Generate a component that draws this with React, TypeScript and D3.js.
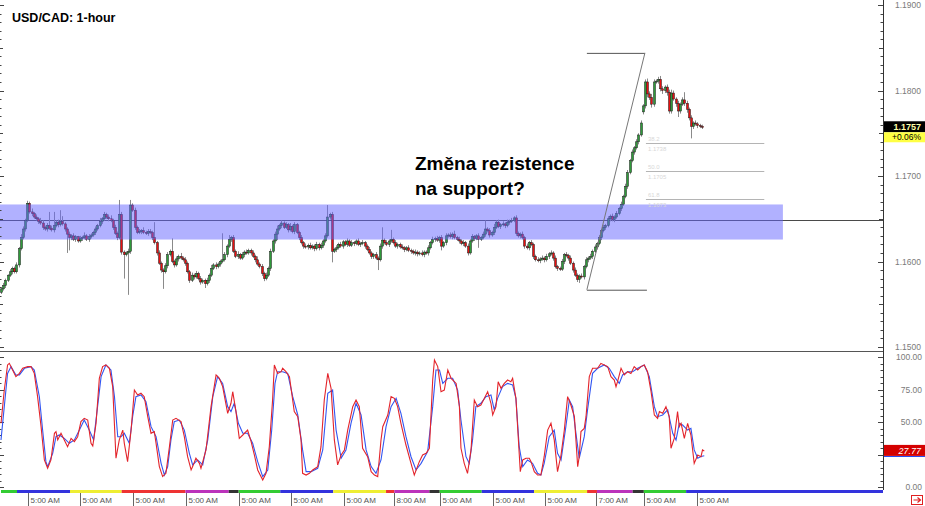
import React, { useEffect, useRef } from 'react';
import * as d3 from 'd3';

const W = 925;
const H = 506;
const FONT = '"Liberation Sans", Arial, sans-serif';

// hourly closes, in pips above 1.1500
const closes = [
  68, 72, 78, 84, 88, 92, 88, 96, 115, 128,
  138, 148, 168, 158, 156, 152, 150, 147, 145, 140,
  138, 142, 139, 137, 142, 146, 143, 147, 144, 138,
  132, 128, 130, 126, 129, 124, 127, 128, 130, 126,
  129, 131, 134, 138, 142, 147, 150, 155, 152, 150,
  148, 140, 133, 128, 155, 111, 108, 110, 112, 166,
  160, 140, 134, 135, 136, 134, 133, 135, 134, 128,
  122, 110, 98, 90, 88, 95, 108, 112, 100, 96,
  103, 106, 104, 102, 98, 88, 78, 84, 82, 86,
  80, 76, 78, 74, 78, 84, 92, 96, 94, 97,
  100, 102, 108, 118, 126, 128, 112, 106, 108, 104,
  108, 111, 110, 113, 110, 106, 102, 97, 94, 86,
  80, 84, 92, 112, 124, 132, 138, 142, 145, 140,
  143, 137, 141, 135, 143, 134, 128, 122, 118, 117,
  119, 116, 118, 115, 120, 116, 119, 124, 130, 152,
  155, 112, 114, 116, 120, 118, 123, 120, 124, 119,
  122, 121, 124, 120, 121, 122, 118, 114, 110, 106,
  108, 104, 102, 118, 125, 122, 120, 124, 126, 122,
  118, 120, 117, 116, 114, 116, 113, 112, 110, 111,
  109, 110, 108, 111, 110, 116, 122, 126, 127, 125,
  128, 118, 122, 130, 131, 129, 132, 128, 126, 124,
  121, 122, 118, 110, 124, 129, 127, 130, 126, 128,
  132, 138, 136, 131, 134, 140, 146, 141, 143, 144,
  142, 146, 147, 148, 151, 133, 130, 132, 128, 118,
  116, 122, 120, 106, 102, 101, 103, 104, 102, 106,
  109, 110, 104, 94, 92, 91, 100, 108, 107, 104,
  98, 90, 84, 79, 83, 82, 94, 102, 104, 106,
  112, 117, 121, 128, 136, 140, 142, 150, 153, 149,
  152, 156, 162, 167, 176, 188, 204, 218, 228, 233,
  240, 248, 262, 282, 310, 296, 292, 284, 310, 311,
  313, 302, 300, 304, 298, 276, 297, 290, 285, 276,
  284, 289, 285, 278, 268, 258, 262, 261, 259, 258,
  257,
];

// wick length above / below the body, in pips
const upperWicks = [
  2, 3, 2, 1, 3, 2, 2, 3, 2, 4, 3, 2, 3, 2, 4, 2, 3, 2, 4, 3,
  2, 3, 16, 3, 16, 2, 3, 13, 6, 2, 2, 3, 2, 3, 2, 1, 3, 2, 4, 2,
  3, 2, 2, 3, 2, 4, 2, 3, 2, 3, 4, 2, 3, 2, 17, 3, 2, 2, 3, 6,
  2, 3, 2, 3, 2, 4, 2, 3, 3, 2, 18, 2, 3, 2, 2, 3, 3, 2, 15, 2,
  3, 2, 4, 2, 3, 2, 2, 3, 2, 3, 2, 3, 2, 2, 3, 2, 4, 2, 3, 2,
  2, 31, 3, 2, 5, 2, 3, 2, 4, 2, 3, 2, 3, 2, 2, 3, 2, 4, 2, 3,
  2, 3, 2, 3, 2, 3, 4, 2, 3, 2, 3, 2, 4, 2, 3, 2, 2, 3, 2, 3,
  2, 3, 2, 2, 3, 2, 3, 2, 3, 14, 2, 3, 2, 3, 2, 3, 2, 2, 3, 2,
  3, 2, 2, 3, 2, 3, 2, 2, 3, 2, 2, 3, 2, 3, 15, 2, 3, 2, 11, 2,
  3, 2, 2, 3, 2, 2, 3, 2, 2, 3, 2, 2, 3, 2, 2, 3, 2, 3, 2, 3,
  2, 3, 2, 3, 2, 3, 2, 4, 2, 3, 2, 3, 2, 3, 2, 3, 2, 2, 3, 2,
  3, 10, 2, 3, 2, 4, 2, 3, 2, 3, 2, 3, 2, 3, 2, 3, 2, 2, 3, 2,
  3, 2, 3, 2, 2, 3, 2, 3, 2, 3, 2, 3, 2, 3, 2, 2, 3, 2, 3, 2,
  3, 2, 3, 2, 2, 3, 2, 3, 2, 3, 2, 3, 2, 3, 2, 3, 2, 3, 2, 3,
  2, 3, 2, 3, 2, 3, 3, 2, 3, 2, 3, 2, 3, 2, 3, 4, 3, 4, 3, 2,
  3, 4, 3, 2, 3, 3, 4, 3, 2, 3, 2, 3, 9, 3, 2, 3, 2, 3, 2, 2,
  2,
];
const lowerWicks = [
  2, 2, 3, 2, 2, 3, 2, 2, 3, 2, 2, 3, 2, 2, 3, 2, 2, 3, 2, 3,
  2, 3, 2, 2, 3, 2, 3, 2, 2, 3, 22, 15, 3, 2, 3, 2, 2, 3, 2, 2,
  3, 2, 2, 3, 2, 2, 3, 2, 2, 3, 2, 3, 2, 3, 2, 3, 28, 2, 49, 3,
  2, 3, 2, 2, 3, 2, 2, 3, 2, 3, 2, 3, 2, 3, 20, 2, 3, 2, 2, 3,
  2, 3, 2, 2, 3, 2, 3, 2, 3, 2, 2, 3, 2, 5, 2, 3, 2, 2, 3, 2,
  3, 2, 2, 3, 2, 3, 2, 2, 3, 2, 2, 3, 2, 2, 3, 2, 3, 2, 2, 3,
  3, 2, 2, 3, 2, 3, 7, 2, 3, 2, 2, 3, 2, 2, 3, 2, 3, 2, 3, 2,
  3, 2, 2, 3, 2, 3, 2, 3, 2, 2, 3, 13, 2, 3, 2, 2, 3, 2, 3, 2,
  2, 3, 2, 2, 3, 2, 3, 2, 2, 3, 3, 2, 12, 2, 3, 2, 2, 3, 2, 2,
  2, 3, 2, 2, 3, 2, 2, 3, 2, 3, 3, 2, 2, 3, 2, 3, 2, 2, 3, 2,
  3, 5, 2, 3, 2, 2, 3, 2, 2, 3, 2, 3, 2, 3, 2, 2, 3, 2, 10, 2,
  2, 3, 2, 3, 2, 3, 2, 2, 3, 2, 3, 2, 3, 2, 2, 3, 2, 3, 2, 3,
  2, 3, 2, 3, 2, 2, 3, 2, 3, 2, 3, 2, 3, 2, 3, 2, 2, 3, 2, 3,
  2, 3, 2, 3, 4, 2, 3, 2, 3, 2, 3, 2, 3, 2, 3, 2, 3, 2, 3, 2,
  3, 2, 2, 3, 2, 2, 3, 2, 2, 3, 2, 3, 2, 3, 3, 4, 3, 4, 3, 2,
  3, 3, 4, 3, 4, 3, 3, 2, 4, 7, 3, 2, 3, 4, 3, 14, 3, 2, 3, 2,
  2,
];
const firstOpen = 64;
const gapOpens: [number, number][] = [[293, 275]];

// stochastic %K (red) and %D (blue): [candle index, value]
const stochK: [number, number][] = [
  [0, 49], [1.5, 74.6], [3, 93.9], [3.8, 95.1], [5.3, 90], [6.8, 84.9], [8.4, 87.4], [9.9, 91.3], [12.2, 92.6], [13.7, 92.6],
  [15.2, 87.4], [16.7, 69.5], [18.3, 46.4], [19.8, 20.8], [21.3, 14.4], [22.8, 20.8], [24.4, 41.3], [25.1, 42.6], [25.9, 36.2], [27.4, 41.3],
  [28.9, 36.2], [30.4, 31], [32, 37.4], [33.5, 34.9], [35, 38.7], [36.5, 50.3], [38, 52.8], [39.6, 51.5], [41.1, 33.6], [41.9, 31.5],
  [43.4, 49], [44.9, 83.6], [46.4, 92.6], [47.9, 93.9], [49.5, 91.3], [51, 77.2], [52.5, 22.1], [54, 36.2], [55.6, 43.8], [56.3, 33.6],
  [57.8, 19.5], [59.4, 43.8], [60.9, 74.6], [62.4, 70.8], [63.9, 72.1], [65.4, 69.5], [67, 54.1], [68.5, 41.3], [70, 42.6], [70.8, 33.6],
  [72.3, 15.7], [73.8, 8], [75.3, 10.5], [76.9, 31], [78.4, 51.5], [79.9, 52.8], [82.2, 50.3], [83.7, 38.7], [85.2, 23.3], [86.8, 13.1],
  [87.5, 15.7], [89, 22.1], [90.6, 18.2], [91.3, 14.4], [93.6, 28.5], [95.9, 61.8], [98.2, 86.2], [99.7, 83.6], [101.2, 77.2], [103.5, 56.7],
  [105, 64.4], [105.8, 73.3], [107.3, 58], [108.1, 46.4], [108.8, 37.4], [110.4, 40], [112.6, 43.8], [114.2, 34.9], [115.7, 24.6], [117.2, 13.1],
  [119.5, 5.4], [121, 10.5], [122.5, 31], [124, 66.9], [124.8, 93.9], [126.3, 87.4], [127.9, 88.7], [128.6, 91.3], [130.1, 88.7], [131.7, 84.9],
  [133.9, 58], [135.5, 54.1], [137, 36.2], [137.7, 10.5], [139.3, 9.2], [140.8, 10.5], [142.3, 13.1], [144.6, 15.7], [146.1, 31], [147.6, 66.9],
  [149.2, 87.4], [150.7, 75.9], [152.2, 36.2], [153.7, 17], [155.3, 24.6], [156.8, 28.5], [158.3, 43.8], [160.6, 61.8], [162.1, 66.9], [163.6, 61.8],
  [165.1, 29.8], [167.4, 23.3], [169, 11.8], [170.5, 9.2], [172, 8], [173.5, 36.2], [174.3, 46.4], [176.6, 55.4], [178.1, 69.5], [179.6, 68.2],
  [181.1, 61.8], [182.6, 49], [184.9, 32.3], [187.2, 18.2], [188.7, 9.2], [191, 19.5], [192.5, 24.6], [194.1, 25.9], [195.6, 29.8], [197.1, 82.3],
  [197.9, 97.7], [199.4, 92.6], [200.9, 73.3], [202.4, 74.6], [204, 90], [205.5, 83.6], [207.8, 79.7], [209.3, 61.8], [210, 30],
  [211.5, 18.2], [213, 10.5], [214.6, 28.5], [216.1, 66.9], [217.6, 61.8], [219.1, 63.1], [220.7, 68.2], [222.2, 73.3], [223.7, 64.4], [224.5, 55.4],
  [226, 61.8], [227, 81], [228.3, 75.9], [229.8, 79.7], [231.3, 82.3], [232.8, 81], [233.6, 83.6], [235.1, 68.2], [237.1, 11.8], [238.2, 20.8],
  [239.7, 22.1], [241.2, 22.1], [242, 19.5], [243.5, 11.8], [245, 9.2], [246.5, 9.2], [248, 23.3], [249.6, 43.8], [251.1, 49], [252.6, 36.2],
  [254.1, 11.8], [255.7, 24.6], [257.2, 43.8], [258.7, 69.5], [260.2, 63.1], [261.8, 54.1], [263.3, 15.7], [264, 23.3], [264.8, 42.6], [266.3, 45.1],
  [267.1, 54.1], [268.6, 84.9], [270.1, 91.3], [272.4, 91.3], [273.9, 95.1], [275.4, 93.9], [277, 92.6], [278.5, 84.9], [280, 82.3], [280.8, 77.2],
  [281.5, 81], [283.1, 91.3], [284.6, 86.2], [286.1, 88.7], [287.6, 87.4], [289.1, 92.6], [290.7, 90], [292.2, 92.6], [293.7, 93.9], [295.2, 88.7],
  [296.8, 73.3], [298.3, 55.4], [299.8, 52.8], [300.6, 58], [302.1, 56.7], [303.6, 61.8], [305.1, 54.1], [305.9, 29.8], [307.4, 37.4], [308.9, 58],
  [309.7, 46.4], [310.5, 49], [312, 37.4], [313.5, 49], [315, 40], [316.5, 18.2], [318.1, 24.6], [319.6, 23.3], [320.3, 28.5], [321.1, 27.77],
];
const stochD: [number, number][] = [
  [0, 36.2], [1.5, 61.8], [3, 87.4], [4.6, 92.6], [6.8, 86.2], [8.4, 86.2], [10.7, 91.3], [13.7, 92.6], [15.2, 90], [17.5, 69.5],
  [19, 43.8], [20.5, 19.5], [21.3, 15.7], [23.6, 25.9], [25.1, 38.7], [26.6, 40], [28.9, 37.4], [31.2, 33.6], [33.5, 36.2], [35.8, 43.8],
  [38, 51.5], [40.3, 43.8], [42.3, 36.2], [44.1, 61.8], [45.7, 84.9], [47.9, 93.9], [50.2, 90], [51.8, 69.5], [53.3, 38.7], [54.8, 38.7],
  [56.3, 41.3], [58.6, 33.6], [60.1, 54.1], [61.6, 69.5], [63.9, 70.8], [66.2, 65.6], [68.5, 46.4], [70.8, 38.7], [73.1, 18.2], [74.6, 9.2],
  [76.1, 15.7], [77.6, 36.2], [79.1, 50.3], [81.4, 51.5], [83.7, 43.8], [86, 25.9], [87.5, 17], [89.8, 20.8], [92.1, 17], [94.4, 36.2],
  [96.7, 69.5], [98.9, 84.9], [101.2, 79.7], [103.5, 61.8], [105, 58], [106.5, 64.4], [108.4, 49], [110.4, 41.3], [112.6, 41.3], [114.9, 33.6],
  [117.2, 19.5], [119.5, 8], [121.8, 13.1], [123.6, 43.8], [125.1, 79.7], [126.3, 88.7], [128.6, 88.7], [130.9, 87.4], [133.2, 69.5], [135.5, 55.4],
  [137.7, 28.5], [139.3, 11.8], [141.6, 11.8], [144.6, 14.4], [146.9, 28.5], [149.2, 72.1], [151.4, 74.6], [153, 43.8], [155.3, 22.1], [157.5, 28.5],
  [159.8, 49], [162.1, 64.4], [164.4, 55.4], [166.7, 28.5], [169, 15.7], [171.2, 10.5], [173.5, 20.8], [175.8, 46.4], [178.1, 61.8], [180.4, 68.2],
  [182.6, 56.7], [184.9, 38.7], [187.2, 23.3], [189.5, 13.1], [191.8, 18.2], [194.8, 27.2], [197.1, 61.8], [198.6, 90], [200.2, 90], [201.7, 79.7],
  [204, 83.6], [206.2, 83.6], [208.5, 74.6], [210, 51.5], [212.3, 23.3], [213.8, 18.2], [215.3, 36.2], [216.8, 61.8], [219.1, 64.4], [221.4, 69.5],
  [223.7, 70.8], [225.2, 59.3], [226.7, 68.2], [229, 77.2], [231.3, 79.7], [233.6, 78.5], [235.1, 68.2], [236.6, 31], [238.2, 15.7], [240.4, 20.8],
  [242.7, 18.2], [245, 10.5], [246.5, 9.2], [248, 18.2], [250.3, 38.7], [252.6, 43.8], [254.1, 25.9], [255.7, 20.8], [257.9, 46.4], [259.5, 66.9],
  [261, 61.8], [262.5, 41.3], [264, 22.1], [266.3, 38.7], [267.8, 59.3], [270.1, 87.4], [272.4, 91.3], [275.4, 93.9], [277.7, 91.3], [280, 84.9],
  [282.3, 79.7], [283.8, 86.2], [286.1, 88.7], [288.4, 88.7], [290.7, 91.3], [293.7, 93.9], [296, 84.9], [298.3, 61.8], [299.8, 54.1], [302.1, 55.4],
  [304.4, 59.3], [306.7, 41.3], [308.2, 36.2], [309.7, 49], [311.2, 47.7], [313.5, 43.8], [315, 45.1], [316.5, 28.5], [318.1, 22.1], [319.6, 23.5],
  [321.1, 24],
];

const priceMajor = [1.15, 1.16, 1.17, 1.18, 1.19];
// 25.00 sits behind the %K tag, so it is not labelled
const stochLabels = [0, 50, 75, 100];

const zoneTop = 1.16667;
const zoneBottom = 1.16257;
const zoneEnd = 357;
const levelPrice = 1.1648;

const fibStart = 267.5;
const fibEnd = 294;
const fibLinesEnd = 348.5;
const fibHigh = 1.1844;
const fibLow = 1.1567;
const fibLevels = [0.382, 0.5, 0.618];

const dayChange = 0.06;

// colour strip under the chart: [from index, to index, colour]
const daySegments: [number, number, string][] = [
  [0, 7.3, '#33cc33'], [7.3, 31.5, '#3333dd'], [31.5, 55.1, '#eeee33'], [55.1, 84.2, '#ee3333'],
  [84.2, 104, '#bb33bb'], [104, 108.5, '#333333'], [108.5, 127.5, '#33cc33'], [127.5, 151.7, '#3333dd'],
  [151.7, 175.8, '#eeee33'], [175.8, 179.6, '#ee3333'], [179.6, 195.6, '#bb33bb'], [195.6, 200.3, '#333333'],
  [200.3, 219.5, '#33cc33'], [219.5, 243.4, '#3333dd'], [243.4, 267.6, '#eeee33'], [267.6, 272.1, '#ee3333'],
  [272.1, 288.4, '#bb33bb'], [288.4, 293.5, '#333333'], [293.5, 312.8, '#33cc33'], [312.8, 402.7, '#3333dd'],
];

const timeTicks = [12.2, 36.2, 60.4, 84.5, 108.5, 132.4, 156.5, 179.6, 200.3, 224.8, 248.3, 271.7, 293.5, 317.8];
const timeLabels = [
  '5:00 AM', '5:00 AM', '5:00 AM', '5:00 AM', '5:00 AM', '5:00 AM', '5:00 AM',
  '8:00 AM', '5:00 AM', '5:00 AM', '5:00 AM', '7:00 AM', '5:00 AM', '5:00 AM',
];

const pip = (p: number) => 1.15 + p / 10000;

const App: React.FC = () => {
  const svgRef = useRef<SVGSVGElement>(null);

  useEffect(() => {
    if (!svgRef.current) return;
    const svg = d3.select(svgRef.current);
    svg.selectAll('*').remove();

    const axisX = 883;
    const x = d3.scaleLinear().domain([0, 402.7]).range([1, axisX]);
    const yP = d3.scaleLinear().domain([1.15, 1.19]).range([347, 5]);
    const yS = d3.scaleLinear().domain([0, 100]).range([487, 357]);

    svg.append('rect').attr('width', W).attr('height', H).attr('fill', '#fff');

    // level line (under the zone)
    svg.append('line')
      .attr('x1', 0).attr('x2', axisX)
      .attr('y1', Math.round(yP(levelPrice)) + 0.5).attr('y2', Math.round(yP(levelPrice)) + 0.5)
      .attr('stroke', '#4a4a4a');

    // candles
    const candles = closes.map((c, i) => {
      const gap = gapOpens.find(g => g[0] === i);
      const o = gap ? gap[1] : i === 0 ? firstOpen : closes[i - 1];
      return {
        i, o, c,
        hi: Math.max(o, c) + upperWicks[i],
        lo: Math.min(o, c) - lowerWicks[i],
      };
    });

    const cg = svg.append('g');
    cg.selectAll('line')
      .data(candles)
      .enter()
      .append('line')
      .attr('x1', d => Math.round(x(d.i)) + 0.5)
      .attr('x2', d => Math.round(x(d.i)) + 0.5)
      .attr('y1', d => yP(pip(d.hi)))
      .attr('y2', d => yP(pip(d.lo)))
      .attr('stroke', '#8a8a8a');

    cg.selectAll('rect')
      .data(candles)
      .enter()
      .append('rect')
      .attr('x', d => Math.round(x(d.i)) - 0.5)
      .attr('width', 2)
      .attr('y', d => yP(pip(Math.max(d.o, d.c))))
      .attr('height', d => Math.max(1, yP(pip(Math.min(d.o, d.c))) - yP(pip(Math.max(d.o, d.c)))))
      .attr('fill', d => (d.c >= d.o ? '#2f9a3a' : '#e81010'))
      .attr('stroke', '#1c1c1c')
      .attr('stroke-width', 0.5);

    // resistance / support zone
    svg.append('rect')
      .attr('x', 0)
      .attr('width', x(zoneEnd))
      .attr('y', yP(zoneTop))
      .attr('height', yP(zoneBottom) - yP(zoneTop))
      .attr('fill', '#6464ff')
      .attr('opacity', 0.5);

    // fibonacci
    const fg = svg.append('g').attr('stroke', '#555').attr('fill', 'none');
    fg.append('line').attr('x1', x(fibStart)).attr('x2', x(fibEnd)).attr('y1', yP(fibHigh) + 0.5).attr('y2', yP(fibHigh) + 0.5);
    fg.append('line').attr('x1', x(fibStart)).attr('x2', x(fibEnd) + 2).attr('y1', yP(fibLow) + 0.5).attr('y2', yP(fibLow) + 0.5);
    fg.append('line').attr('x1', x(fibStart)).attr('x2', x(fibEnd)).attr('y1', yP(fibLow)).attr('y2', yP(fibHigh)).attr('stroke', '#777');
    fibLevels.forEach(l => {
      const p = fibHigh - l * (fibHigh - fibLow);
      const yy = Math.round(yP(p)) + 0.5;
      svg.append('line').attr('x1', x(fibEnd) + 1).attr('x2', x(fibLinesEnd))
        .attr('y1', yy).attr('y2', yy).attr('stroke', '#b4b4b4');
      svg.append('text').attr('x', x(fibEnd) + 3).attr('y', yy - 3)
        .attr('font-family', FONT).attr('font-size', 6).attr('fill', '#d8d8d8')
        .text((l * 100).toFixed(1));
      svg.append('text').attr('x', x(fibEnd) + 3).attr('y', yy + 7)
        .attr('font-family', FONT).attr('font-size', 6).attr('fill', '#d8d8d8')
        .text(p.toFixed(4));
    });

    // panel separator and right axis
    svg.append('line').attr('x1', 0).attr('x2', axisX).attr('y1', 351.5).attr('y2', 351.5).attr('stroke', '#555');
    svg.append('line').attr('x1', axisX + 0.5).attr('x2', axisX + 0.5).attr('y1', 0).attr('y2', 490).attr('stroke', '#333');

    const ticks = svg.append('g').attr('stroke', '#444');
    d3.range(0, 41).forEach(k => {
      const yy = Math.round(yP(1.15 + k * 0.001)) + 0.5;
      const len = k % 10 === 0 ? 5 : k % 5 === 0 ? 4 : 2.5;
      ticks.append('line').attr('x1', axisX - len).attr('x2', axisX).attr('y1', yy).attr('y2', yy);
      ticks.append('line').attr('x1', 0).attr('x2', len - 1).attr('y1', yy).attr('y2', yy);
    });
    d3.range(0, 21).forEach(k => {
      const yy = Math.round(yS(k * 5)) + 0.5;
      const len = k % 5 === 0 ? 5 : 2.5;
      ticks.append('line').attr('x1', axisX - len).attr('x2', axisX).attr('y1', yy).attr('y2', yy);
      ticks.append('line').attr('x1', 0).attr('x2', len - 1).attr('y1', yy).attr('y2', yy);
    });

    svg.append('g').selectAll('text')
      .data(priceMajor)
      .enter()
      .append('text')
      .attr('x', 895).attr('y', d => yP(d) + 3)
      .attr('font-family', FONT).attr('font-size', 8.5).attr('fill', '#7a7a7a')
      .text(d => d3.format('.4f')(d));

    svg.append('g').selectAll('text')
      .data(stochLabels)
      .enter()
      .append('text')
      .attr('x', 922).attr('y', d => yS(d) + 3).attr('text-anchor', 'end')
      .attr('font-family', FONT).attr('font-size', 8.5).attr('fill', '#7a7a7a')
      .text(d => d3.format('.2f')(d));

    // current price tag
    const last = pip(closes[closes.length - 1]);
    const ly = yP(last);
    svg.append('rect').attr('x', 884).attr('y', ly - 6).attr('width', 41).attr('height', 11).attr('fill', '#000');
    svg.append('text').attr('x', 921).attr('y', ly + 3).attr('text-anchor', 'end')
      .attr('font-family', FONT).attr('font-size', 9).attr('font-weight', 'bold').attr('fill', '#ffffa8')
      .text(last.toFixed(4));
    svg.append('rect').attr('x', 884).attr('y', ly + 5).attr('width', 41).attr('height', 10).attr('fill', '#ffff44');
    svg.append('text').attr('x', 921).attr('y', ly + 13).attr('text-anchor', 'end')
      .attr('font-family', FONT).attr('font-size', 8.5).attr('fill', '#000')
      .text(`+${dayChange.toFixed(2)}%`);

    // stochastic
    const line = d3.line<[number, number]>().x(d => x(d[0])).y(d => yS(d[1]));
    svg.append('path').datum(stochD).attr('d', line).attr('fill', 'none').attr('stroke', '#3256f2').attr('stroke-width', 1.1);
    svg.append('path').datum(stochK).attr('d', line).attr('fill', 'none').attr('stroke', '#e3242b').attr('stroke-width', 1.1);

    const dLast = stochD[stochD.length - 1][1];
    svg.append('line').attr('x1', 884).attr('x2', W).attr('y1', Math.round(yS(dLast)) + 0.5).attr('y2', Math.round(yS(dLast)) + 0.5)
      .attr('stroke', '#2b4cf0');
    const kLast = stochK[stochK.length - 1][1];
    svg.append('rect').attr('x', 884).attr('y', yS(kLast) - 6).attr('width', 41).attr('height', 11).attr('fill', '#d40000');
    svg.append('text').attr('x', 921).attr('y', yS(kLast) + 3).attr('text-anchor', 'end')
      .attr('font-family', FONT).attr('font-size', 9).attr('font-style', 'italic').attr('fill', '#fff')
      .text(kLast.toFixed(2));

    // day strip and time axis
    svg.append('g').selectAll('rect')
      .data(daySegments)
      .enter()
      .append('rect')
      .attr('x', d => x(d[0]))
      .attr('width', d => x(d[1]) - x(d[0]))
      .attr('y', 490).attr('height', 3)
      .attr('fill', d => d[2]);

    const tg = svg.append('g');
    timeTicks.forEach((t, k) => {
      const xx = Math.round(x(t)) + 0.5;
      tg.append('line').attr('x1', xx).attr('x2', xx).attr('y1', 493).attr('y2', H).attr('stroke', '#666');
      tg.append('text').attr('x', xx + 2).attr('y', 503)
        .attr('font-family', FONT).attr('font-size', 8).attr('fill', '#555')
        .text(timeLabels[k]);
    });

    // scroll arrow icon
    svg.append('rect').attr('x', 911.5).attr('y', 495.5).attr('width', 11).attr('height', 9)
      .attr('fill', '#fff').attr('stroke', '#e02020');
    svg.append('path').attr('d', 'M913.5,500 H920 M917.5,497.5 L920.5,500 L917.5,502.5')
      .attr('fill', 'none').attr('stroke', '#e02020').attr('stroke-width', 1.2);

    // texts
    svg.append('text').attr('x', 12).attr('y', 22)
      .attr('font-family', FONT).attr('font-size', 12.5).attr('font-weight', 'bold').attr('fill', '#000')
      .text('USD/CAD: 1-hour');
    const ann = svg.append('text').attr('font-family', FONT).attr('font-size', 19).attr('font-weight', 'bold').attr('fill', '#000');
    ann.append('tspan').attr('x', 415).attr('y', 170).text('Změna rezistence');
    ann.append('tspan').attr('x', 415).attr('y', 195).text('na support?');
  }, []);

  return (
    <svg
      ref={svgRef}
      width={W}
      height={H}
      viewBox={`0 0 ${W} ${H}`}
      style={{ position: 'absolute', left: 0, top: 0 }}
    />
  );
};

export default App;
